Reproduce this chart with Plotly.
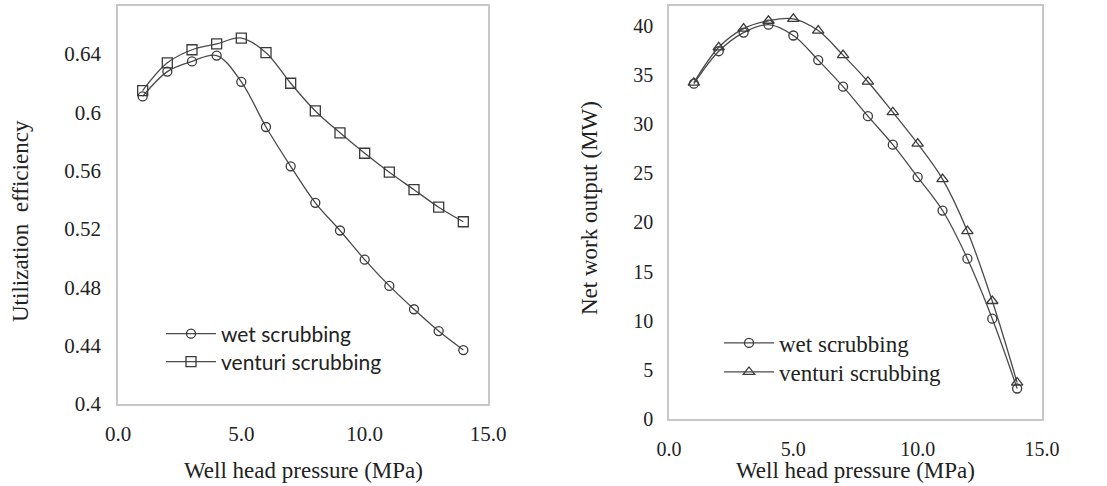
import plotly.graph_objects as go

# ---- data ----
pressure = [1, 2, 3, 4, 5, 6, 7, 8, 9, 10, 11, 12, 13, 14]

eff_wet = [0.611, 0.628, 0.635, 0.639, 0.621, 0.590, 0.563, 0.538, 0.519, 0.499,
           0.481, 0.465, 0.450, 0.437]
eff_venturi = [0.615, 0.634, 0.643, 0.647, 0.651, 0.641, 0.620, 0.601, 0.586, 0.572,
               0.559, 0.547, 0.535, 0.525]

work_wet = [34.1, 37.4, 39.3, 40.1, 39.0, 36.5, 33.8, 30.8, 27.9, 24.6, 21.2, 16.3,
            10.2, 3.1]
work_venturi = [34.2, 37.8, 39.7, 40.5, 40.7, 39.5, 37.0, 34.3, 31.2, 28.0, 24.4,
                19.1, 12.0, 3.7]

eff_ticks = [0.4, 0.44, 0.48, 0.52, 0.56, 0.6, 0.64]
eff_tick_text = ["0.4", "0.44", "0.48", "0.52", "0.56", "0.6", "0.64"]
work_ticks = [0, 5, 10, 15, 20, 25, 30, 35, 40]
x_ticks = [0, 5, 10, 15]

series_names = ["wet scrubbing", "venturi scrubbing"]

# ---- layout helpers ----
W, H = 1107, 486
def px(x):
    return x / W
def py(y):
    return 1 - y / H

LINE = "#4a4a4a"
MK = "#3a3a3a"
FRAME = "#c8c8c8"
TXT = "#222222"
SERIF = "Liberation Serif, Times New Roman, serif"
SANS = "Lato, Carlito, sans-serif"

fig = go.Figure()

def add(x, y, name, sym, xa, ya, leg, msize):
    fig.add_trace(go.Scatter(
        x=x, y=y, name=name, mode="lines+markers",
        line=dict(color=LINE, width=1.3, shape="spline", smoothing=1.0),
        marker=dict(symbol=sym, size=msize, color=MK, line=dict(width=1.3, color=MK)),
        xaxis=xa, yaxis=ya, legend=leg,
    ))

add(pressure, eff_wet, series_names[0], "circle-open", "x", "y", "legend", 9)
add(pressure, eff_venturi, series_names[1], "square-open", "x", "y", "legend2", 10)
add(pressure, work_wet, series_names[0], "circle-open", "x2", "y2", "legend3", 9)
add(pressure, work_venturi, series_names[1], "triangle-up-open", "x2", "y2", "legend4", 10)

axis_common = dict(
    showgrid=False, zeroline=False, showline=True, mirror=True,
    linecolor=FRAME, linewidth=1.5, ticks="", automargin=False,
)

def leg(x, y, font):
    return dict(x=px(x), y=py(y), xanchor="left", yanchor="middle",
                bgcolor="rgba(0,0,0,0)", font=font, itemwidth=50)

left_font = dict(family=SANS, size=21, color=TXT)
right_font = dict(family=SERIF, size=23, color=TXT)

fig.update_layout(
    width=W, height=H, autosize=False,
    margin=dict(l=0, r=0, t=0, b=0, pad=0, autoexpand=False),
    paper_bgcolor="white", plot_bgcolor="white",
    showlegend=True,
    xaxis=dict(domain=[px(118), px(488)], range=[0, 15], tickvals=x_ticks,
               tickformat=".1f", anchor="y", ticklabelstandoff=10,
               tickfont=dict(family=SERIF, size=21, color=TXT), **axis_common),
    yaxis=dict(domain=[py(404), py(6)], range=[0.4, 0.673], tickvals=eff_ticks,
               ticktext=eff_tick_text, anchor="x", ticklabelstandoff=11,
               tickfont=dict(family=SERIF, size=21, color=TXT), **axis_common),
    xaxis2=dict(domain=[px(669), px(1042)], range=[0, 15], tickvals=x_ticks,
                tickformat=".1f", anchor="y2", ticklabelstandoff=11,
                tickfont=dict(family=SERIF, size=20, color=TXT), **axis_common),
    yaxis2=dict(domain=[py(419), py(6)], range=[0, 42], tickvals=work_ticks,
                anchor="x2", ticklabelstandoff=10,
                tickfont=dict(family=SERIF, size=20, color=TXT), **axis_common),
    legend=leg(161, 334, left_font),
    legend2=leg(161, 362, left_font),
    legend3=leg(719, 343, right_font),
    legend4=leg(719, 372, right_font),
    annotations=[
        dict(text="Well head pressure (MPa)", x=px(303), y=py(470), xref="paper", yref="paper",
             showarrow=False, font=dict(family=SERIF, size=23, color=TXT),
             xanchor="center", yanchor="middle"),
        dict(text="Utilization  efficiency", x=px(20), y=py(221), xref="paper", yref="paper",
             showarrow=False, textangle=-90, font=dict(family=SERIF, size=23, color=TXT),
             xanchor="center", yanchor="middle"),
        dict(text="Well head pressure (MPa)", x=px(855), y=py(470), xref="paper", yref="paper",
             showarrow=False, font=dict(family=SERIF, size=23, color=TXT),
             xanchor="center", yanchor="middle"),
        dict(text="Net work output (MW)", x=px(589), y=py(208), xref="paper", yref="paper",
             showarrow=False, textangle=-90, font=dict(family=SERIF, size=23, color=TXT),
             xanchor="center", yanchor="middle"),
    ],
)

fig.write_html(
    "out.html",
    config={"displayModeBar": False},
    post_script="document.body.style.margin='0px';document.documentElement.style.overflow='hidden';document.body.style.overflow='hidden';",
)
